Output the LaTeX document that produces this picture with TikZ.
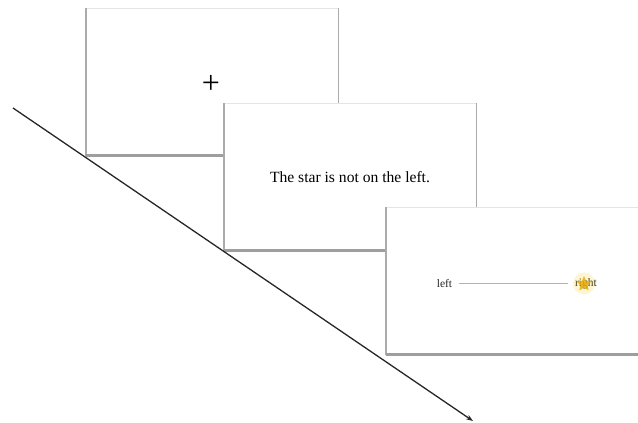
\documentclass[tikz,border=0pt]{standalone}
\usepackage{fontspec}
\setmainfont{Liberation Serif}
\usetikzlibrary{positioning,arrows.meta,shapes.geometric}

\begin{document}
\begin{tikzpicture}[x=1pt,y=-1pt,>=Stealth,
  card/.style={fill=white,minimum width=252pt,minimum height=147pt,inner sep=0pt},
  side/.style={draw=black!33,line width=1.4pt},
  foot/.style={draw=black!38,line width=2.6pt},
  cue/.style={font=\fontsize{11.5}{13}\selectfont,inner sep=3.5pt,text=black!85}]
  \useasboundingbox (0,0) rectangle (638,423);
  % three screens, each one a bit further down and right
  \foreach \nm/\cx/\cy in {p1/212/82, p2/350/177, p3/512/281}{
    \node[card](\nm) at (\cx,\cy){};
    \draw[draw=black!10,line width=0.8pt](\nm.north west)--(\nm.north east);
    \draw[side](\nm.north west)--(\nm.south west);
    \draw[side](\nm.north east)--(\nm.south east);
    \draw[foot](\nm.south west)--(\nm.south east);
  }
  \node[font=\fontsize{32}{32}\selectfont,inner sep=0pt](fix) at (211,84){+};
  \node[font=\fontsize{15.6}{18}\selectfont](msg) at (p2){The star is not on the left.};
  \node[cue](lft) at (444.5,283.5){left};
  \node[cue](rgt) at (586,283.5){right};
  \draw[black!30,line width=1.3pt,shorten <=3.5pt,shorten >=3.5pt](lft)--(rgt);
  \fill[yellow!70!orange,opacity=0.18](rgt.center)++(-2,0) circle (11);
  \node[star,star points=5,star point ratio=2.2,minimum size=16pt,inner sep=0pt,
    fill={rgb,255:red,232;green,172;blue,10},opacity=0.85](st) at (584,284){};
  % time axis
  \coordinate (t0) at (13,108);
  \coordinate (t1) at (473,421);
  \draw[line width=1.3pt,black!85,-{Stealth[length=7pt,width=5pt]}](t0)--(t1);
\end{tikzpicture}
\end{document}
